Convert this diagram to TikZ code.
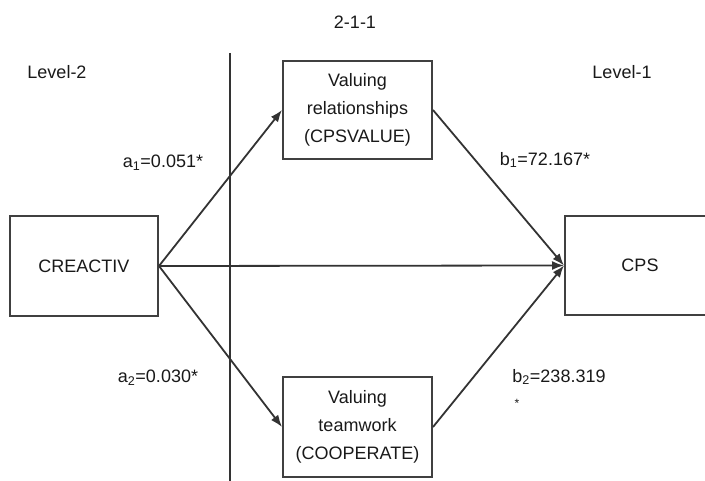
\documentclass[tikz,border=0pt]{standalone}
\usepackage{fontspec}
\setmainfont{Liberation Sans}
\usetikzlibrary{shapes,arrows,arrows.meta,positioning}

\begin{document}
\begin{tikzpicture}[x=1pt,y=-1pt,>={Latex[length=12pt,width=9pt]},
	every node/.style={font=\fontsize{18}{28}\selectfont,text=black!90},
	box/.style={draw=black!75,line width=2pt,align=center,inner sep=0pt}]
	\useasboundingbox (0,0) rectangle (705,481);

	\node[box,minimum width=148pt,minimum height=100pt] (cr) at (84,266) {CREACTIV};
	\node[box,minimum width=149pt,minimum height=98pt] (val) at (357.5,110) {Valuing\\relationships\\(CPSVALUE)};
	\node[box,minimum width=149pt,minimum height=100pt] (coop) at (357.5,427) {Valuing\\teamwork\\(COOPERATE)};
	\node[box,minimum width=150pt,minimum height=99pt] (cps) at (640,265.5) {CPS};

	\node (title) at (355,22) {2-1-1};
	\node (lv2) at (57,72) {Level-2};
	\node (lv1) at (622,72) {Level-1};

	\node (a1) at (163,163) {a\textsubscript{1}=0.051*};
	\node (a2) at (158,378) {a\textsubscript{2}=0.030*};
	\node (b1) at (545,160) {b\textsubscript{1}=72.167*};
	\node (b2) at (559,377) {b\textsubscript{2}=238.319};
	\node[font=\fontsize{12}{14}\selectfont] (st) at (517,403) {*};

	\coordinate (top) at (230,53);
	\coordinate (bot) at (230,481);
	\draw[black!80,line width=1.6pt] (top) -- (bot);

	\path [->,black!80,line width=1.8pt] (cr.east) edge (val.west);
	\path [->,black!80,line width=1.8pt] (cr.east) edge (coop.west);
	\path [->,black!80,line width=1.8pt] (cr.east) edge (cps.west);
	\path [->,black!80,line width=1.8pt] (val.east) edge (cps.west);
	\path [->,black!80,line width=1.8pt] (coop.east) edge (cps.west);
\end{tikzpicture}
\end{document}
